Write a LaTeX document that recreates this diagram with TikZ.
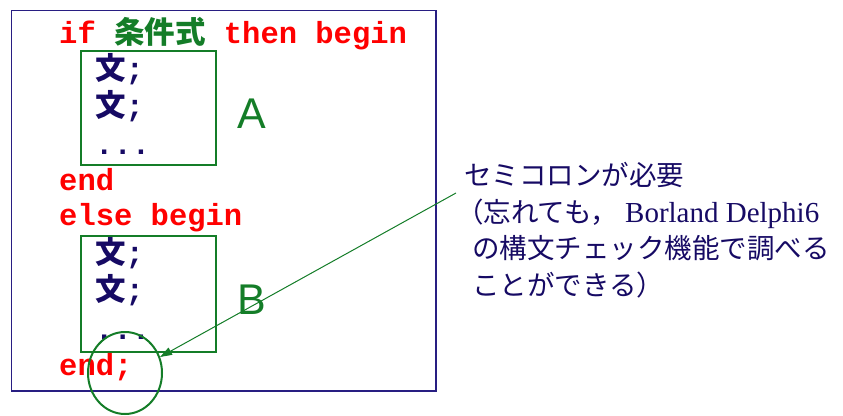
\documentclass[tikz,border=0pt]{standalone}
\usepackage{fontspec}
\setmainfont{Liberation Serif}
\newfontfamily\monof{Liberation Mono}
\newfontfamily\cjk{Noto Sans CJK JP}
\newfontfamily\sansf{Liberation Sans}
\usetikzlibrary{shapes.geometric,arrows.meta}
\definecolor{kred}{RGB}{255,0,0}
\definecolor{kgreen}{RGB}{20,125,40}
\definecolor{knavy}{RGB}{22,10,100}
\definecolor{kframe}{RGB}{40,30,130}
\begin{document}
\begin{tikzpicture}[x=1pt,y=-1pt,
  codeline/.style={anchor=base west, inner sep=0pt, text=kred,
    font=\monof\bfseries\fontsize{30.5}{36}\selectfont},
  stmt/.style={anchor=base west, inner sep=0pt, text=knavy,
    font=\monof\bfseries\fontsize{30.5}{36}\selectfont},
  blockbox/.style={draw=kgreen, line width=2pt, inner sep=0pt},
  blocklabel/.style={anchor=base west, inner sep=0pt, text=kgreen,
    font=\sansf\fontsize{43}{50}\selectfont},
  note/.style={anchor=base west, inner sep=0pt, text=knavy,
    font=\cjk\fontsize{27.5}{33}\selectfont},
  pointer/.style={draw=kgreen, line width=1pt, -{Triangle[length=12pt,width=8pt]}},
  mark ring/.style={ellipse, draw=kgreen, line width=2pt, inner sep=0pt,
    minimum width=74pt, minimum height=82pt}
]
\useasboundingbox (0,0) rectangle (843,415);
% outer frame
\node[draw=kframe, line width=1.3pt, inner sep=0pt, minimum width=424.5pt, minimum height=380.5pt] (frame) at (223.75,200.75) {};
% green boxes
\node[blockbox, minimum width=135pt, minimum height=114pt] (boxA) at (148.5,108) {};
\node[blockbox, minimum width=135pt, minimum height=116pt] (boxB) at (148.5,294) {};
% code lines
\node[codeline] (ifline) at (59,43) {if {\cjk\bfseries\color{kgreen}条件式} then begin};
\node[stmt] (a1) at (95,79) {{\cjk\bfseries 文};};
\node[stmt] (a2) at (95,116) {{\cjk\bfseries 文};};
\node[stmt] (a3) at (95,154) {...};
\node[codeline] (end1) at (59,190) {end};
\node[codeline] (elseline) at (59,225) {else begin};
\node[stmt] (b1) at (95,263) {{\cjk\bfseries 文};};
\node[stmt] (b2) at (95,300) {{\cjk\bfseries 文};};
\node[stmt] (b3) at (95,339) {...};
\node[codeline] (end2) at (59,375) {end;};
% labels
\node[blocklabel] (labA) at (237,128) {A};
\node[blocklabel] (labB) at (237,314) {B};
% note
\node[note] (n1) at (464,185) {セミコロンが必要};
\node[note] (n2) at (456,222) {（忘れても，{\rmfamily\fontsize{29}{33}\selectfont\ Borland Delphi6}};
\node[note] (n3) at (472,258) {の構文チェック機能で調べる};
\node[note] (n4) at (472,295) {ことができる）};
% ring and pointer
\node[mark ring] (ring) at (125,373) {};
\coordinate (pstart) at (456,193);
\coordinate (ptip) at (160,357);
\draw[pointer] (pstart) -- (ptip);
\end{tikzpicture}
\end{document}
